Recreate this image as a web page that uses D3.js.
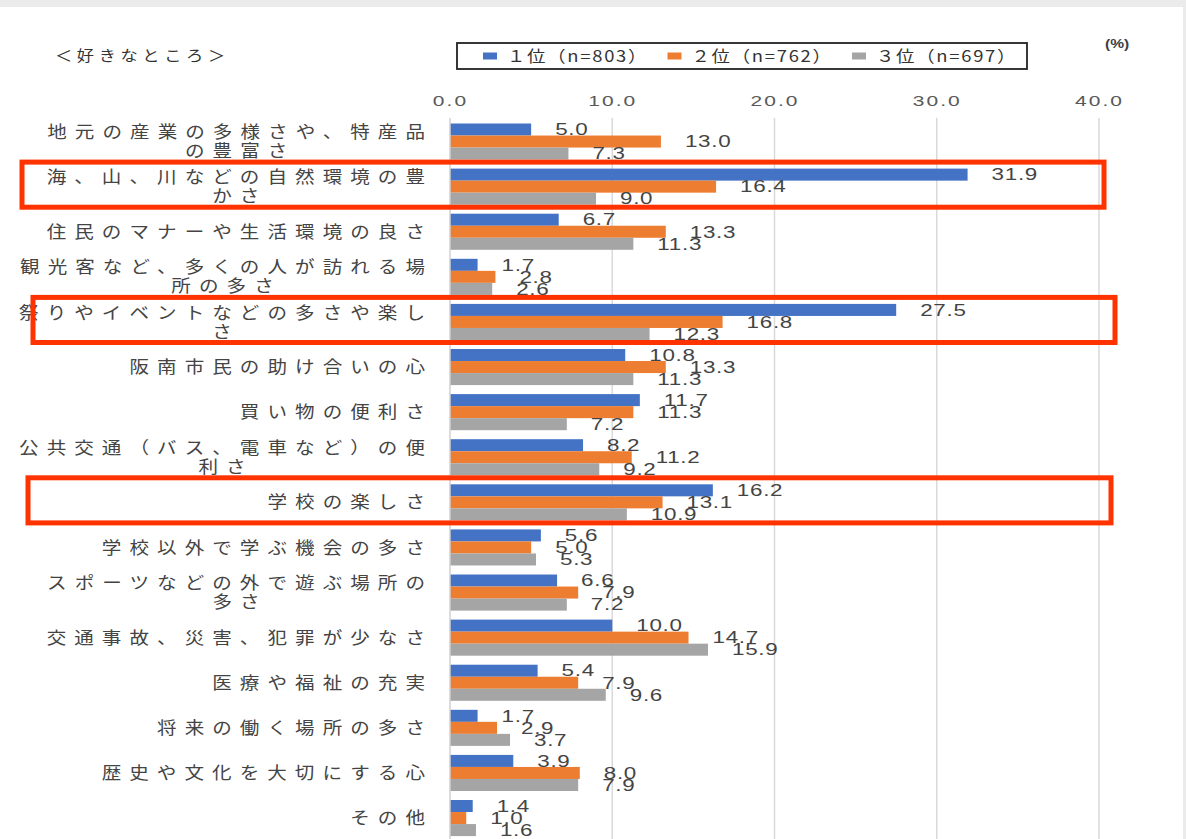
<!DOCTYPE html>
<html>
<head>
<meta charset="utf-8">
<script src="https://cdn.jsdelivr.net/npm/d3@7"></script>
<style>
  body { margin: 0; background: #fff; }
  svg { display: block; }
  .cat { font-family: 'Noto Sans CJK JP', sans-serif; font-size: 17px; }
</style>
</head>
<body>
<script>
// data
var categories = [
    "地元の産業の多様さや、特産品\nの豊富さ",
    "海、山、川などの自然環境の豊\nかさ",
    "住民のマナーや生活環境の良さ",
    "観光客など、多くの人が訪れる場\n所の多さ",
    "祭りやイベントなどの多さや楽し\nさ",
    "阪南市民の助け合いの心",
    "買い物の便利さ",
    "公共交通（バス、電車など）の便\n利さ",
    "学校の楽しさ",
    "学校以外で学ぶ機会の多さ",
    "スポーツなどの外で遊ぶ場所の\n多さ",
    "交通事故、災害、犯罪が少なさ",
    "医療や福祉の充実",
    "将来の働く場所の多さ",
    "歴史や文化を大切にする心",
    "その他"
];
var rank1 = [5.0, 31.9, 6.7, 1.7, 27.5, 10.8, 11.7, 8.2, 16.2, 5.6, 6.6, 10.0, 5.4, 1.7, 3.9, 1.4];
var rank2 = [13.0, 16.4, 13.3, 2.8, 16.8, 13.3, 11.3, 11.2, 13.1, 5.0, 7.9, 14.7, 7.9, 2.9, 8.0, 1.0];
var rank3 = [7.3, 9.0, 11.3, 2.6, 12.3, 11.3, 7.2, 9.2, 10.9, 5.3, 7.2, 15.9, 9.6, 3.7, 7.9, 1.6];
var seriesNames = ["１位（n=803）", "２位（n=762）", "３位（n=697）"];
var xTicks = [0, 10, 20, 30, 40];
var highlighted = [1, 4, 8];

var series = [rank1, rank2, rank3];
var colors = ["#4472c4", "#ed7d31", "#a5a5a5"];

var svgWidth = 1186;
var svgHeight = 839;

var svg = d3.select("body").append("svg")
    .attr("width", svgWidth)
    .attr("height", svgHeight);

// screenshot frame (gray strips)
svg.append("rect").attr("x", 0).attr("y", 0).attr("width", svgWidth).attr("height", 7).attr("fill", "#ebebeb");
svg.append("rect").attr("x", 1183).attr("y", 0).attr("width", 3).attr("height", svgHeight).attr("fill", "#ebebeb");

var xScale = d3.scaleLinear().domain([0, 40]).range([450, 1099]);
var yScale = d3.scaleBand().domain(d3.range(categories.length)).range([119, 119 + categories.length * 45.1]);
var inner = d3.scaleBand().domain([0, 1, 2])
    .range([yScale.bandwidth() * 0.1, yScale.bandwidth() * 0.9]);

var numFont = "'Liberation Sans', Arial, sans-serif";
var jpFont = "'Noto Sans CJK JP', sans-serif";
var textColor = "#444";

// gridlines
svg.append("g").selectAll("line")
    .data(xTicks.slice(1))
    .enter().append("line")
    .attr("x1", d => xScale(d)).attr("x2", d => xScale(d))
    .attr("y1", 118).attr("y2", svgHeight)
    .attr("stroke", "#d9d9d9").attr("stroke-width", 1.5);

// x axis labels on top
var axis = svg.append("g")
    .attr("transform", "translate(0,110)")
    .call(d3.axisTop(xScale).tickValues(xTicks).tickFormat(d3.format(".1f")).tickSize(0).tickPadding(0));
axis.select(".domain").remove();
axis.selectAll("text")
    .attr("y", 0).attr("dy", "-0.3em")
    .attr("transform", "scale(1.4,1)")
    .style("font-family", numFont).style("font-size", "15px")
    .style("letter-spacing", "1.5px")
    .attr("fill", "#595959");

// bars
var groups = svg.append("g").selectAll("g")
    .data(categories)
    .enter().append("g")
    .attr("transform", (d, i) => `translate(0,${yScale(i)})`);

groups.selectAll("rect")
    .data((d, i) => series.map((s, k) => ({k: k, v: s[i]})))
    .enter().append("rect")
    .attr("x", xScale(0))
    .attr("y", d => inner(d.k))
    .attr("width", d => xScale(d.v) - xScale(0))
    .attr("height", inner.bandwidth())
    .attr("fill", d => colors[d.k]);

// value labels
groups.selectAll("text.val")
    .data((d, i) => series.map((s, k) => ({k: k, v: s[i]})))
    .enter().append("text")
    .attr("class", "val")
    .attr("transform", d => `translate(${xScale(d.v) + 24},${inner(d.k) + inner.bandwidth() / 2}) scale(1.4,1)`)
    .attr("dy", "0.36em")
    .style("font-family", numFont).style("font-size", "16px")
    .style("letter-spacing", "0.5px")
    .attr("fill", textColor)
    .text(d => d.v.toFixed(1));

// axis line at 0
svg.append("line")
    .attr("x1", xScale(0)).attr("x2", xScale(0))
    .attr("y1", 118).attr("y2", svgHeight)
    .attr("stroke", "#d0d0d0").attr("stroke-width", 1.5);

// category labels: widened spacing, lines centred, block right aligned
var labelRight = 425, gap = 7, sx = 1.15;
categories.forEach(function(c, i) {
    var lines = c.split("\n");
    var yc = yScale(i) + yScale.bandwidth() / 2;
    var texts = lines.map(function(l, j) {
        var t = svg.append("text")
            .attr("class", "cat")
            .attr("text-anchor", "middle")
            .attr("dy", "0.36em")
            .attr("fill", textColor)
            .text(l);
        var w = t.node().getComputedTextLength() + (l.length - 1) * gap;
        t.attr("textLength", w).attr("lengthAdjust", "spacing");
        return {t: t, w: w, dy: lines.length > 1 ? (j === 0 ? -9.5 : 9.5) : 0};
    });
    var wmax = d3.max(texts, d => d.w);
    var cx = labelRight - sx * wmax / 2;
    texts.forEach(function(d) {
        d.t.attr("transform", `translate(${cx},${yc + d.dy}) scale(${sx},1)`);
    });
});

// red highlight boxes
var boxX = [[22, 1104], [33, 1115], [28, 1111]];
highlighted.forEach(function(idx, j) {
    svg.append("rect")
        .attr("x", boxX[j][0]).attr("y", yScale(idx) - 2)
        .attr("width", boxX[j][1] - boxX[j][0])
        .attr("height", yScale.bandwidth())
        .attr("fill", "none")
        .attr("stroke", "#ff3300").attr("stroke-width", 5);
});

// title
svg.append("text")
    .attr("transform", "translate(55,56) scale(1.15,1)")
    .attr("dy", "0.36em")
    .style("font-family", jpFont).style("font-size", "15px")
    .style("letter-spacing", "4px")
    .attr("fill", "#333")
    .text("＜好きなところ＞");

// unit
svg.append("text")
    .attr("transform", "translate(1105,44) scale(1.3,1)")
    .attr("dy", "0.36em")
    .style("font-family", numFont).style("font-size", "12px")
    .style("font-weight", "bold")
    .attr("fill", "#404040")
    .text("(%)");

// legend
var legend = svg.append("g");
legend.append("rect")
    .attr("x", 457).attr("y", 43).attr("width", 570).attr("height", 26)
    .attr("fill", "#fff").attr("stroke", "#222").attr("stroke-width", 1.8);
var items = legend.selectAll("g.item")
    .data(seriesNames)
    .enter().append("g")
    .attr("transform", (d, i) => `translate(${483 + i * 184.5},56)`);
items.append("rect")
    .attr("x", 0).attr("y", -3.5).attr("width", 14).attr("height", 7)
    .attr("fill", (d, i) => colors[i]);
items.append("text")
    .attr("transform", "translate(24,0) scale(1.15,1)")
    .attr("dy", "0.36em")
    .style("font-family", jpFont).style("font-size", "16px")
    .style("letter-spacing", "1.5px")
    .attr("fill", "#333")
    .text(d => d);
</script>
</body>
</html>
